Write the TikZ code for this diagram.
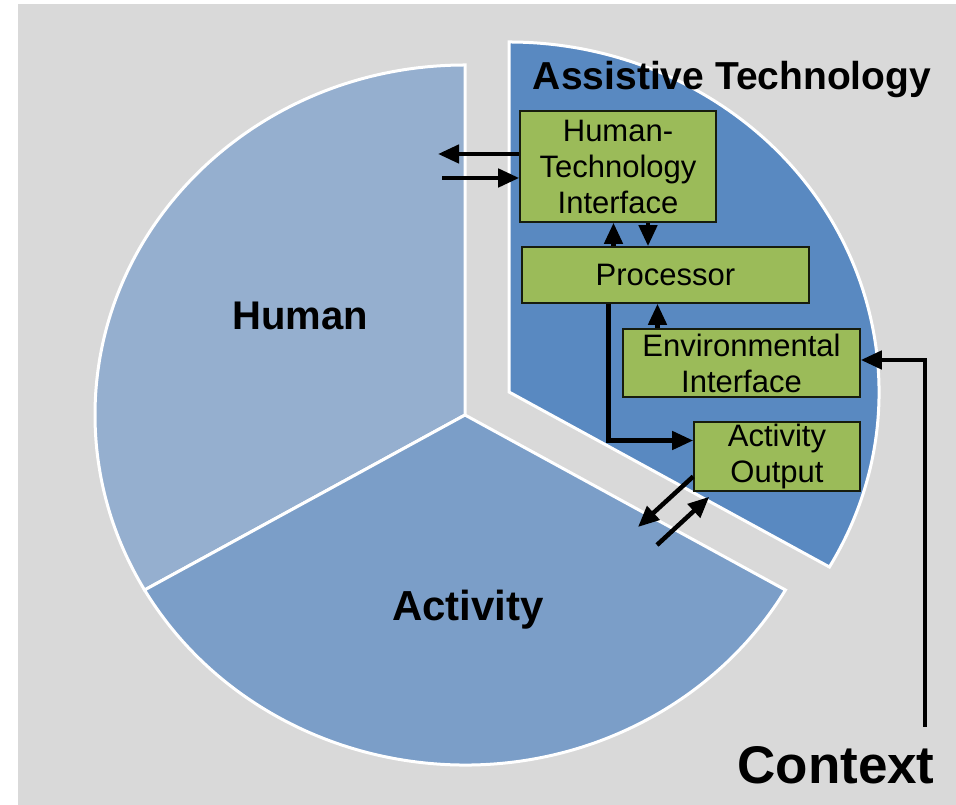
\documentclass[tikz,border=0pt]{standalone}
\usepackage{fontspec}
\setmainfont{Liberation Sans}
\usetikzlibrary{arrows.meta,positioning}
\definecolor{paper}{RGB}{217,217,217}
\definecolor{humanblue}{RGB}{149,175,207}
\definecolor{activityblue}{RGB}{123,158,200}
\definecolor{techblue}{RGB}{89,137,193}
\definecolor{boxgreen}{RGB}{155,187,89}
\tikzset{
diagram/.style={x=1pt,y=1pt,>={Triangle[length=21pt,width=18pt]}},
slice/.style={draw=white,line width=3pt,fill=#1},
block/.style={draw=black!85!boxgreen,line width=1.6pt,fill=boxgreen,align=center,
inner sep=0pt,font=\fontsize{31}{36}\selectfont},
heading/.style={font=\bfseries\fontsize{#1}{#1}\selectfont,inner sep=0pt},
heading/.default={40},
link/.style={->,line width=4.5pt},
}

\begin{document}
\begin{tikzpicture}[diagram]
                \useasboundingbox (0,0) rectangle (956,805);
                \fill[paper] (18,0) rectangle (956,801);
                % the pie, with the technology slice pulled out
                \draw[slice=humanblue] (465,390) -- (465,740)
                    arc[start angle=90,end angle=210,x radius=370,y radius=350] -- cycle;
                \draw[slice=activityblue] (465,390) -- ++(210:370 and 350)
                    arc[start angle=210,end angle=330,x radius=370,y radius=350] -- cycle;
                \draw[slice=techblue] (509,413) -- ++(330:370 and 350)
                    arc[start angle=330,end angle=450,x radius=370,y radius=350] -- cycle;

                \node[heading] (human) at (300,489) {Human};
                \node[heading=42] (activity) at (468,195) {Activity};
                \node[heading=39] (tech) at (732,725) {Assistive Technology};
                \node[heading=53] (context) at (836,40) {Context};

                \node[block,minimum width=196pt,minimum height=111pt] (hti) at (618,638.5) {Human-\\Technology\\Interface};
                \node[block,minimum width=287pt,minimum height=56pt] (proc) at (665.5,530) {Processor};
                \node[block,minimum width=237pt,minimum height=68pt] (env) at (741.5,442) {Environmental\\Interface};
                \node[block,minimum width=166pt,minimum height=69pt] (out) at (777,348.5) {Activity\\Output};

                \coordinate (hleft) at (438,651);
                \coordinate (hin) at (442,627);
                \coordinate (aleft) at (638,278);
                \coordinate (ain) at (657,260);
                \coordinate (cfoot) at (925,78);

                \draw[link] (hti.west |- hleft) -- (hleft);
                \draw[link] (hin) -- (hti.west |- hin);
                \draw[link] ([xshift=-52pt]proc.north) -- ([xshift=-52pt]proc.north |- hti.south);
                \draw[link] ([xshift=30pt]hti.south) -- ([xshift=30pt]hti.south |- proc.north);
                \draw[link] ([xshift=-84pt]env.north) -- ([xshift=-84pt]env.north |- proc.south);
                \draw[link] ([xshift=-57pt]proc.south) |- ([yshift=16pt]out.west);
                \draw[link] (cfoot) |- ([yshift=3pt]env.east);
                \draw[link] ([yshift=-20pt]out.west) -- (aleft);
                \draw[link] (ain) -- ([xshift=16pt,yshift=-5pt]out.south west);
            \end{tikzpicture}
\end{document}
